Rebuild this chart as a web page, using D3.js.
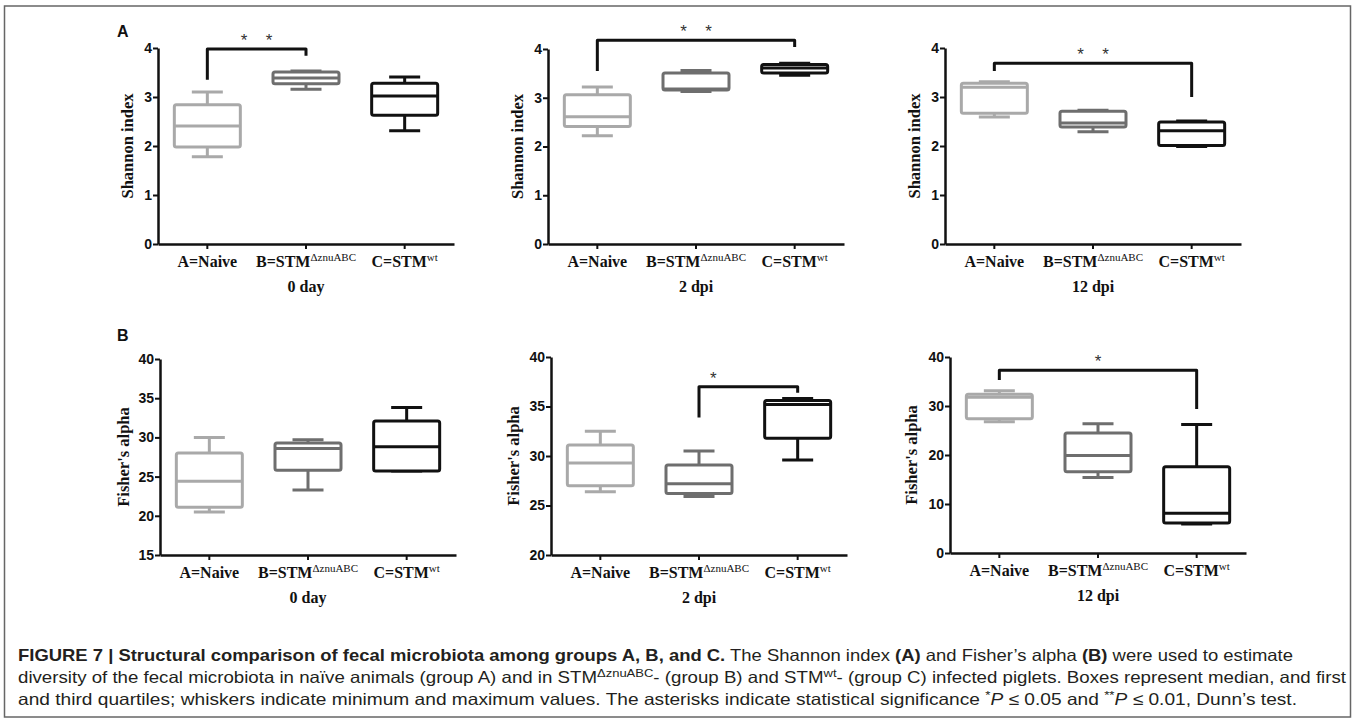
<!DOCTYPE html>
<html>
<head>
<meta charset="utf-8">
<script src="https://cdn.jsdelivr.net/npm/d3@7"></script>
<style>
  body { margin: 0; background: #fff; }
  .axis path, .axis line { stroke: #111; }
  .axis path { stroke-width: 2.5; }
  .axis line { stroke-width: 2; }
  .ytick text { font: bold 14px "Liberation Sans", Arial, sans-serif; fill: #111; }
  .xtick text, .serif { font-family: "Liberation Serif", "Times New Roman", serif; font-weight: bold; fill: #111; }
  .caption { font-family: "Liberation Sans Narrow", "Arial Narrow", "Liberation Sans", Arial, sans-serif; font-size: 16.5px; fill: #231f20; }
</style>
</head>
<body>
<div id="chart"></div>
<script>
// groups and time points
var groups = ["A", "B", "C"];
var groupLabels = ["A=Naive", "B=STM", "C=STM"];
var groupSups = ["", "\u0394znuABC", "wt"];
var days = ["0 day", "2 dpi", "12 dpi"];

// [min, q1, median, q3, max] for groups A, B, C
var shannon0  = [[1.78, 1.98, 2.41, 2.84, 3.10], [3.16, 3.27, 3.39, 3.51, 3.53], [2.31, 2.63, 3.02, 3.28, 3.41]];
var shannon2  = [[2.22, 2.41, 2.61, 3.06, 3.22], [3.13, 3.16, 3.18, 3.51, 3.56], [3.46, 3.51, 3.61, 3.68, 3.71]];
var shannon12 = [[2.59, 2.67, 3.20, 3.28, 3.31], [2.29, 2.39, 2.47, 2.71, 2.73], [1.99, 2.01, 2.31, 2.49, 2.51]];
var fisher0   = [[20.5, 21.1, 24.4, 28.0, 30.0], [23.3, 25.8, 28.6, 29.3, 29.7], [25.7, 25.7, 28.8, 32.1, 33.8]];
var fisher2   = [[26.4, 27.0, 29.3, 31.1, 32.5], [25.9, 26.2, 27.2, 29.1, 30.5], [29.6, 31.8, 35.2, 35.6, 35.8]];
var fisher12  = [[26.8, 27.4, 31.8, 32.4, 33.1], [15.4, 16.6, 19.9, 24.5, 26.4], [5.9, 6.1, 8.1, 17.6, 26.2]];

// y tick values
var shannonTicks = [0, 1, 2, 3, 4];
var fisherTicks0 = [15, 20, 25, 30, 35, 40];
var fisherTicks2 = [20, 25, 30, 35, 40];
var fisherTicks12 = [0, 10, 20, 30, 40];

// significance brackets (group indexes, bracket top and leg ends in data units)
var shannonSig0  = {from: 0, to: 1, top: 3.98, left: 3.35, right: 3.84, label: "**"};
var shannonSig2  = {from: 0, to: 2, top: 4.18, left: 3.55, right: 4.04, label: "**"};
var shannonSig12 = {from: 0, to: 2, top: 3.69, left: 3.53, right: 3.00, label: "**"};
var fisherSig2   = {from: 1, to: 2, top: 37.0, left: 33.9, right: 36.4, label: "*"};
var fisherSig12  = {from: 0, to: 2, top: 37.3, left: 35.3, right: 29.4, label: "*"};

var captionLines = [
  [["b", "FIGURE 7 | Structural comparison of fecal microbiota among groups A, B, and C."], ["n", " The Shannon index "], ["b", "(A)"], ["n", " and Fisher\u2019s alpha "], ["b", "(B)"], ["n", " were used to estimate"]],
  [["n", "diversity of the fecal microbiota in na\u00efve animals (group A) and in STM"], ["sup", "\u0394znuABC"], ["n", "- (group B) and STM"], ["sup", "wt"], ["n", "- (group C) infected piglets. Boxes represent median, and first"]],
  [["n", "and third quartiles; whiskers indicate minimum and maximum values. The asterisks indicate statistical significance "], ["sup", "*"], ["i", "P"], ["n", " \u2264 0.05 and "], ["sup", "**"], ["i", "P"], ["n", " \u2264 0.01, Dunn\u2019s test."]]
];

// layout
var width = 1355, height = 722;
var groupColors = ["#a9a9a9", "#6e6e6e", "#111111"];
var axisLen = 296, boxHalf = 33, capHalf = 15.5;
var panels = [
  {data: shannon0,  sig: shannonSig0,  ticks: shannonTicks,  ylabel: "Shannon index",  day: 0, x0: 158, yTop: 48,  yBot: 244, labelOff: 25},
  {data: shannon2,  sig: shannonSig2,  ticks: shannonTicks,  ylabel: "Shannon index",  day: 1, x0: 548, yTop: 49,  yBot: 244, labelOff: 25},
  {data: shannon12, sig: shannonSig12, ticks: shannonTicks,  ylabel: "Shannon index",  day: 2, x0: 945, yTop: 48,  yBot: 244, labelOff: 25},
  {data: fisher0,   sig: null,         ticks: fisherTicks0,  ylabel: "Fisher's alpha", day: 0, x0: 160, yTop: 359, yBot: 555, labelOff: 31},
  {data: fisher2,   sig: fisherSig2,   ticks: fisherTicks2,  ylabel: "Fisher's alpha", day: 1, x0: 551, yTop: 357, yBot: 555, labelOff: 32, starDx: -35},
  {data: fisher12,  sig: fisherSig12,  ticks: fisherTicks12, ylabel: "Fisher's alpha", day: 2, x0: 950, yTop: 357, yBot: 553, labelOff: 33}
];

var svg = d3.select("#chart").append("svg")
  .attr("width", width)
  .attr("height", height);

// figure frame
svg.append("rect")
  .attr("x", 4.5).attr("y", 6)
  .attr("width", 1346).attr("height", 711)
  .attr("fill", "none")
  .attr("stroke", "#666")
  .attr("stroke-width", 1.5);

// panel letters
svg.append("text").attr("x", 117).attr("y", 37).text("A")
  .style("font", "bold 16px 'Liberation Sans', Arial, sans-serif").attr("fill", "#111");
svg.append("text").attr("x", 117).attr("y", 341).text("B")
  .style("font", "bold 16px 'Liberation Sans', Arial, sans-serif").attr("fill", "#111");

panels.forEach(function(p) {
  var g = svg.append("g").attr("transform", "translate(" + p.x0 + ",0)");

  var y = d3.scaleLinear()
    .domain(d3.extent(p.ticks))
    .range([p.yBot, p.yTop]);
  var x = d3.scaleBand()
    .domain(groups)
    .range([0, axisLen])
    .padding(0);
  var cx = function(i) { return x(groups[i]) + x.bandwidth() / 2; };

  // Y axis
  g.append("g")
    .attr("class", "axis ytick")
    .call(d3.axisLeft(y).tickValues(p.ticks).tickFormat(d3.format("d"))
      .tickSize(5).tickSizeOuter(0).tickPadding(1))
    .attr("font-size", null).attr("font-family", null);

  // X axis with superscript group labels
  var xa = g.append("g")
    .attr("class", "axis xtick")
    .attr("transform", "translate(0," + p.yBot + ")")
    .call(d3.axisBottom(x).tickSize(5).tickSizeOuter(0).tickPadding(7)
      .tickFormat(function(d) { return groupLabels[groups.indexOf(d)]; }))
    .attr("font-size", null).attr("font-family", null);
  xa.selectAll(".tick text")
    .style("font-size", "16px")
    .each(function(d) {
      var sup = groupSups[groups.indexOf(d)];
      if (sup) {
        d3.select(this).append("tspan")
          .attr("dy", -6)
          .style("font-size", "11px")
          .style("font-weight", "normal")
          .text(sup);
      }
    });

  // Day label
  g.append("text")
    .attr("class", "serif")
    .attr("x", cx(1))
    .attr("y", p.yBot + 48)
    .attr("text-anchor", "middle")
    .style("font-size", "16px")
    .text(days[p.day]);

  // Y label
  g.append("text")
    .attr("class", "serif")
    .attr("transform", "translate(" + (-p.labelOff) + "," + ((p.yTop + p.yBot) / 2) + ") rotate(-90)")
    .attr("text-anchor", "middle")
    .style("font-size", "16.5px")
    .text(p.ylabel);

  // Boxes
  var boxes = g.selectAll(".box")
    .data(p.data)
    .join("g")
    .attr("class", "box")
    .attr("stroke", function(d, i) { return groupColors[i]; })
    .attr("stroke-width", 3)
    .attr("fill", "none");

  // whiskers
  boxes.append("path")
    .attr("d", function(d, i) {
      return "M" + cx(i) + "," + y(d[4]) + "V" + y(d[3]) +
             "M" + cx(i) + "," + y(d[1]) + "V" + y(d[0]) +
             "M" + (cx(i) - capHalf) + "," + y(d[4]) + "H" + (cx(i) + capHalf) +
             "M" + (cx(i) - capHalf) + "," + y(d[0]) + "H" + (cx(i) + capHalf);
    });
  boxes.append("rect")
    .attr("x", function(d, i) { return cx(i) - boxHalf; })
    .attr("y", function(d) { return y(d[3]); })
    .attr("width", boxHalf * 2)
    .attr("height", function(d) { return y(d[1]) - y(d[3]); })
    .attr("rx", 2)
    .attr("fill", "#fff");
  boxes.append("line")
    .attr("x1", function(d, i) { return cx(i) - boxHalf; })
    .attr("x2", function(d, i) { return cx(i) + boxHalf; })
    .attr("y1", function(d) { return y(d[2]); })
    .attr("y2", function(d) { return y(d[2]); });

  // Significance bracket
  if (p.sig) {
    var s = p.sig;
    g.append("path")
      .attr("d", "M" + cx(s.from) + "," + y(s.left) + "V" + y(s.top) + "H" + cx(s.to) + "V" + y(s.right))
      .attr("fill", "none")
      .attr("stroke", "#111")
      .attr("stroke-width", 3)
      .attr("stroke-linejoin", "round");
    var mid = (cx(s.from) + cx(s.to)) / 2 + (p.starDx || 0);
    var n = s.label.length;
    for (var k = 0; k < n; k++) {
      g.append("text")
        .attr("x", mid + (k - (n - 1) / 2) * 25)
        .attr("y", y(s.top) - 3)
        .attr("text-anchor", "middle")
        .style("font", "17px 'Liberation Sans', Arial, sans-serif")
        .attr("fill", "#333")
        .text("*");
    }
  }
});

// Caption
var captionY = [661, 683, 705];
var captionW = [1275, 1328, 1279];
captionLines.forEach(function(line, li) {
  var t = svg.append("text")
    .attr("class", "caption")
    .attr("x", 18)
    .attr("y", captionY[li])
    .attr("textLength", captionW[li])
    .attr("lengthAdjust", "spacingAndGlyphs");
  var raised = false;
  line.forEach(function(seg) {
    var ts = t.append("tspan").text(seg[1]);
    if (seg[0] === "sup") {
      ts.attr("dy", raised ? 0 : -6).style("font-size", "11.5px");
      raised = true;
    } else {
      if (raised) { ts.attr("dy", 6); raised = false; }
      if (seg[0] === "b") ts.style("font-weight", "bold");
      if (seg[0] === "i") ts.style("font-style", "italic");
    }
  });
});
</script>
</body>
</html>
